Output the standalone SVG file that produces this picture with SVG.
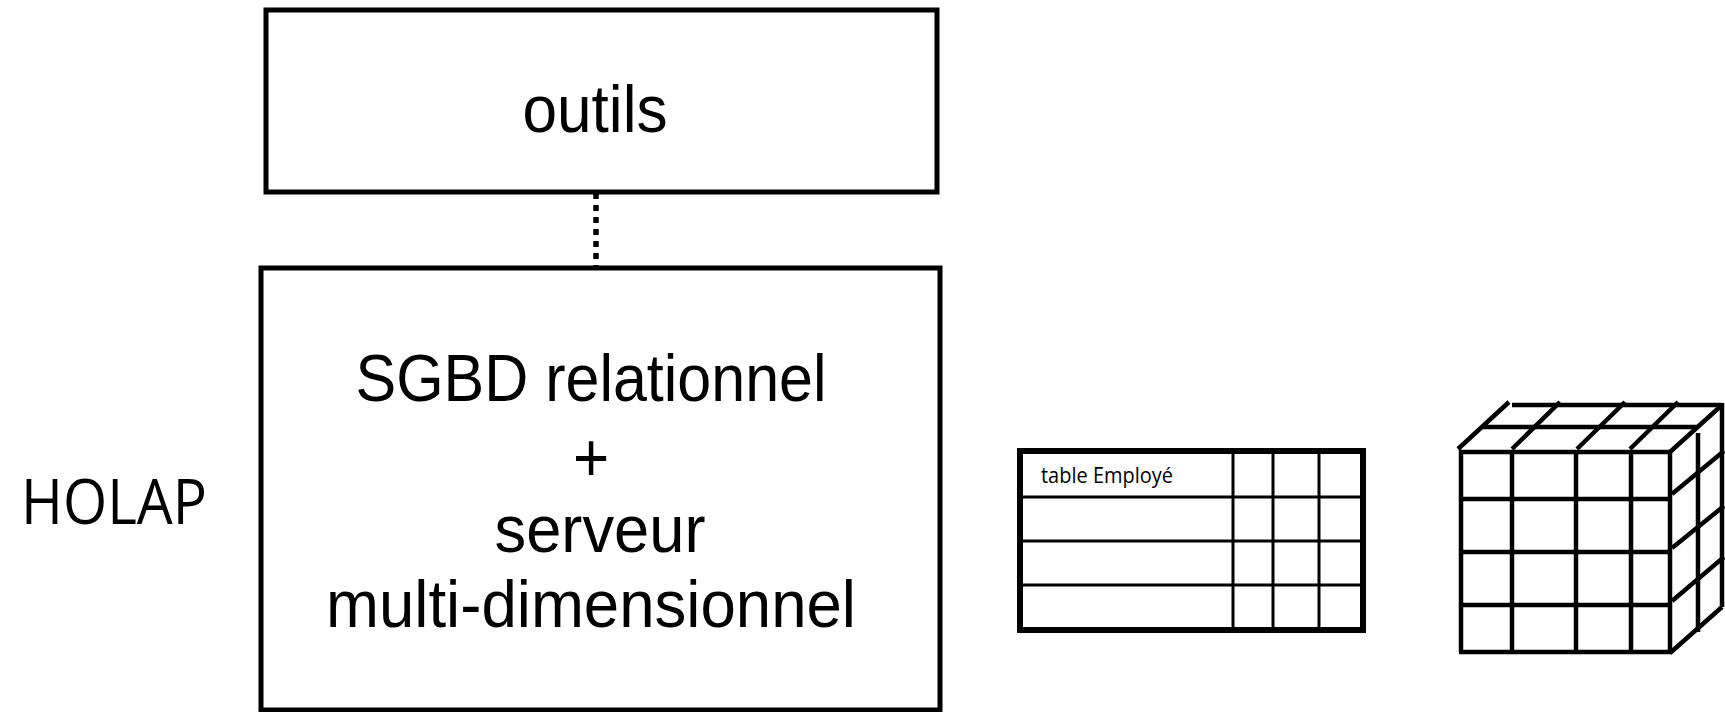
<svg xmlns="http://www.w3.org/2000/svg" width="1725" height="712" viewBox="0 0 1725 712">
<style>
.box{fill:#fff;stroke:#000;stroke-width:5}
.big{font-family:"Liberation Sans",Arial,sans-serif;font-size:62px;fill:#000;text-anchor:middle}
.hum{font-family:"Open Sans","Noto Sans",sans-serif;fill:#000}
.thin{stroke:#000;stroke-width:3;fill:none}
.cube line{stroke:#000;stroke-width:4.5;stroke-linecap:butt}
</style>
<rect width="1725" height="712" fill="#fff"/>
<g id="connectors">
<line x1="596" y1="193" x2="596" y2="268" stroke="#000" stroke-width="5.5" stroke-dasharray="6 6"/>
</g>
<g id="outils">
<rect class="box" x="266" y="10" width="671" height="182"/>
<text class="big" transform="translate(595,132) scale(1,1.07)" textLength="145" lengthAdjust="spacingAndGlyphs">outils</text>
</g>
<g id="serveur">
<rect class="box" x="261" y="268" width="679" height="442"/>
<text class="big" transform="translate(591,401) scale(1,1.07)" textLength="471" lengthAdjust="spacingAndGlyphs">SGBD relationnel</text>
<text class="big" transform="translate(591,481) scale(1,1.12)">+</text>
<text class="big" transform="translate(600,552) scale(1,1.07)" textLength="211" lengthAdjust="spacingAndGlyphs">serveur</text>
<text class="big" transform="translate(591,627) scale(1,1.07)" textLength="530" lengthAdjust="spacingAndGlyphs">multi-dimensionnel</text>
</g>
<g id="holap">
<text class="hum" x="21" y="524" font-size="62" textLength="186" lengthAdjust="spacingAndGlyphs">HOLAP</text>
</g>
<g id="table">
<rect x="1020" y="451" width="343" height="179" fill="#fff" stroke="#000" stroke-width="6"/>
<line class="thin" x1="1020" y1="497" x2="1363" y2="497"/>
<line class="thin" x1="1020" y1="541" x2="1363" y2="541"/>
<line class="thin" x1="1020" y1="585" x2="1363" y2="585"/>
<line class="thin" x1="1233" y1="451" x2="1233" y2="630"/>
<line class="thin" x1="1273" y1="451" x2="1273" y2="630"/>
<line class="thin" x1="1319" y1="451" x2="1319" y2="630"/>
<text class="hum" x="1041" y="483" font-size="21" textLength="132" lengthAdjust="spacingAndGlyphs">table Employé</text>
</g>
<g id="cube" class="cube">
<line x1="1461" y1="450" x2="1461" y2="652"/>
<line x1="1512" y1="450" x2="1512" y2="652"/>
<line x1="1576" y1="450" x2="1576" y2="652"/>
<line x1="1631" y1="450" x2="1631" y2="652"/>
<line x1="1670" y1="450" x2="1670" y2="654"/>
<line x1="1459" y1="452" x2="1672" y2="452"/>
<line x1="1459" y1="499" x2="1672" y2="499"/>
<line x1="1459" y1="552" x2="1672" y2="552"/>
<line x1="1459" y1="605" x2="1672" y2="605"/>
<line x1="1459" y1="652" x2="1672" y2="652"/>
<line x1="1512" y1="405" x2="1722" y2="405"/>
<line x1="1483" y1="427" x2="1698" y2="427"/>
<line x1="1458" y1="449" x2="1509" y2="402"/>
<line x1="1512" y1="449" x2="1560" y2="402"/>
<line x1="1577" y1="449" x2="1625" y2="402"/>
<line x1="1630" y1="449" x2="1678" y2="402"/>
<line x1="1670" y1="452" x2="1722" y2="405"/>
<line x1="1722" y1="403" x2="1722" y2="607"/>
<line x1="1698" y1="433" x2="1698" y2="632"/>
<line x1="1672" y1="494" x2="1724" y2="451"/>
<line x1="1672" y1="548" x2="1724" y2="506"/>
<line x1="1672" y1="601" x2="1724" y2="557"/>
<line x1="1670" y1="653" x2="1722" y2="607"/>
</g>
</svg>
